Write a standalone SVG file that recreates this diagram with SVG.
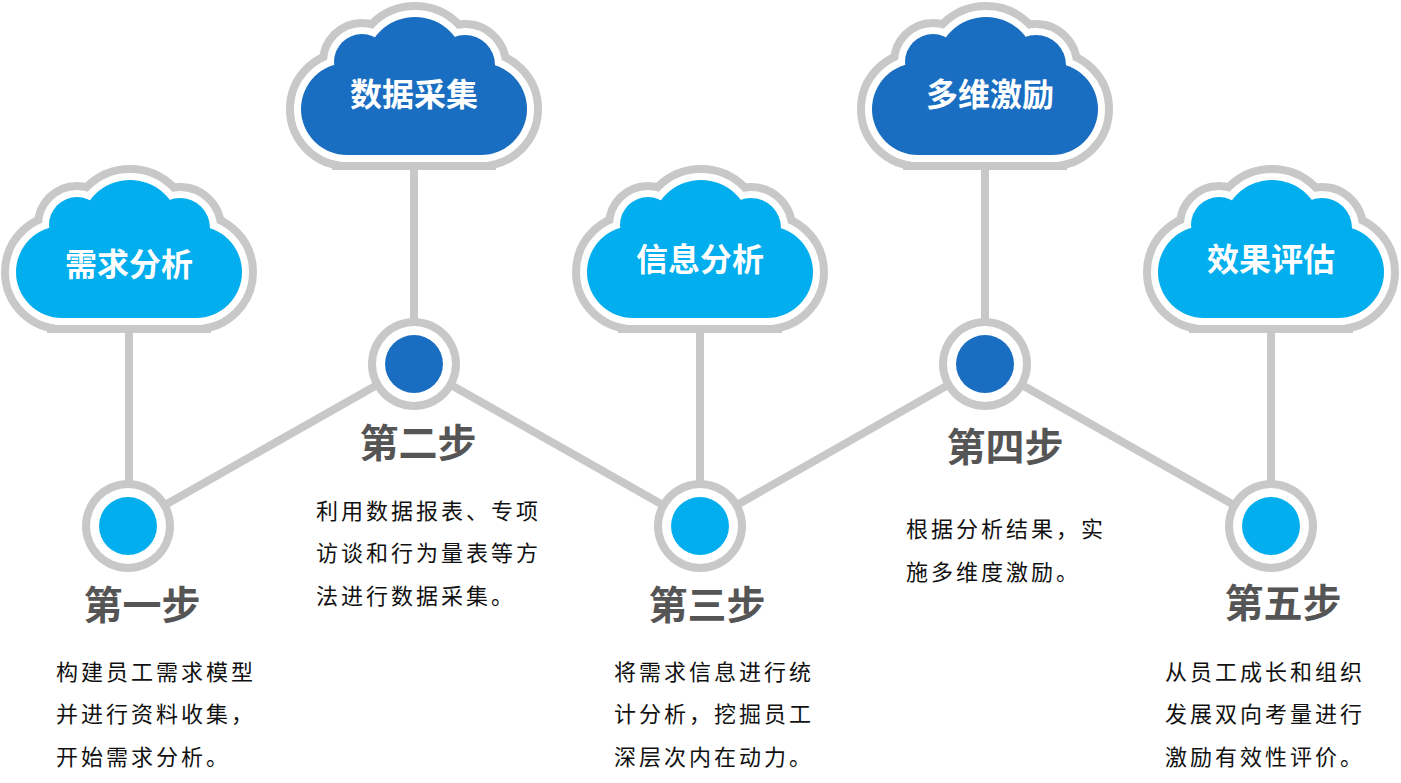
<svg xmlns="http://www.w3.org/2000/svg" width="1401" height="783" viewBox="0 0 1401 783">
<style>
.ln{stroke:#C8C8C8;stroke-width:8;fill:none}
.ct{font-family:"Noto Sans CJK SC",sans-serif;font-weight:bold;font-size:32px;fill:#fff;text-anchor:middle}
.st{font-family:"Noto Sans CJK SC",sans-serif;font-weight:bold;font-size:39px;fill:#555;text-anchor:middle}
.ds{font-family:"Noto Sans CJK SC",sans-serif;font-size:22px;letter-spacing:3px;fill:#111}
.lb{fill:#02AEEE}.db{fill:#1A6EC1}
</style>
<defs>
<g id="cs">
<circle cx="-67" cy="-46" r="46"/><circle cx="67" cy="-46" r="46"/><circle cx="-52" cy="-93" r="28"/><circle cx="1" cy="-88" r="50"/><circle cx="51" cy="-90" r="30"/><rect x="-67" y="-92" width="134" height="92"/>
</g>
<g id="cb">
<use href="#cs" fill="#C8C8C8" stroke="#C8C8C8" stroke-width="30"/>
<use href="#cs" fill="#fff" stroke="#fff" stroke-width="14"/>
</g>
<g id="nb"><circle r="46" fill="#C8C8C8"/><circle r="38" fill="#fff"/></g>
</defs>
<g id="connectors">
<line class="ln" x1="129" y1="318" x2="129" y2="526"/>
<line class="ln" x1="414" y1="155" x2="414" y2="364"/>
<line class="ln" x1="700" y1="318" x2="700" y2="526"/>
<line class="ln" x1="985" y1="155" x2="985" y2="364"/>
<line class="ln" x1="1271" y1="318" x2="1271" y2="526"/>
<polyline class="ln" points="128,526 414,364 700,526 985,364 1271,526"/>
</g>
<g id="n1">
<use href="#cb" x="129" y="318"/><use href="#cs" x="129" y="318" class="lb"/>
<text class="ct" x="129" y="276">需求分析</text>
<use href="#nb" x="128" y="526"/><circle cx="128" cy="526" r="29" class="lb"/>
<text class="st" x="142" y="619">第一步</text>
<text class="ds"><tspan x="56" y="680">构建员工需求模型</tspan><tspan x="56" y="722">并进行资料收集，</tspan><tspan x="56" y="765">开始需求分析。</tspan></text>
</g>
<g id="n2">
<use href="#cb" x="414" y="155"/><use href="#cs" x="414" y="155" class="db"/>
<text class="ct" x="414" y="106">数据采集</text>
<use href="#nb" x="414" y="364"/><circle cx="414" cy="364" r="29" class="db"/>
<text class="st" x="418" y="457">第二步</text>
<text class="ds"><tspan x="316" y="519">利用数据报表、专项</tspan><tspan x="316" y="561">访谈和行为量表等方</tspan><tspan x="316" y="604">法进行数据采集。</tspan></text>
</g>
<g id="n3">
<use href="#cb" x="700" y="318"/><use href="#cs" x="700" y="318" class="lb"/>
<text class="ct" x="700" y="271">信息分析</text>
<use href="#nb" x="700" y="526"/><circle cx="700" cy="526" r="29" class="lb"/>
<text class="st" x="707" y="619">第三步</text>
<text class="ds"><tspan x="614" y="680">将需求信息进行统</tspan><tspan x="614" y="722">计分析，挖掘员工</tspan><tspan x="614" y="765">深层次内在动力。</tspan></text>
</g>
<g id="n4">
<use href="#cb" x="985" y="155"/><use href="#cs" x="985" y="155" class="db"/>
<text class="ct" x="990" y="106">多维激励</text>
<use href="#nb" x="985" y="364"/><circle cx="985" cy="364" r="29" class="db"/>
<text class="st" x="1005" y="461">第四步</text>
<text class="ds"><tspan x="906" y="537">根据分析结果，实</tspan><tspan x="906" y="580">施多维度激励。</tspan></text>
</g>
<g id="n5">
<use href="#cb" x="1271" y="318"/><use href="#cs" x="1271" y="318" class="lb"/>
<text class="ct" x="1271" y="271">效果评估</text>
<use href="#nb" x="1271" y="526"/><circle cx="1271" cy="526" r="29" class="lb"/>
<text class="st" x="1283" y="617">第五步</text>
<text class="ds"><tspan x="1165" y="680">从员工成长和组织</tspan><tspan x="1165" y="722">发展双向考量进行</tspan><tspan x="1165" y="765">激励有效性评价。</tspan></text>
</g>
</svg>
